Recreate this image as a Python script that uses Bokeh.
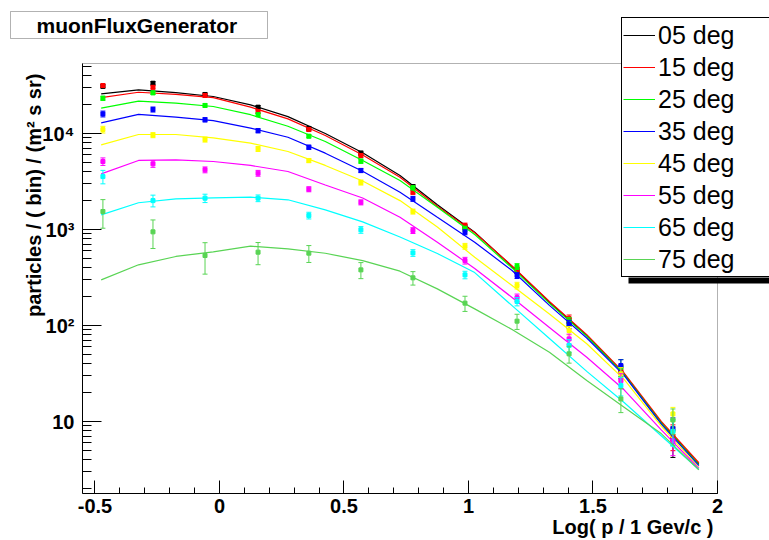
import math
from bokeh.plotting import figure
from bokeh.models import Range1d, FixedTicker, Legend, LegendItem, Label, BoxAnnotation
from bokeh.embed import file_html
from bokeh.resources import INLINE

# ---------------- data ----------------
labels = ["05 deg", "15 deg", "25 deg", "35 deg", "45 deg", "55 deg", "65 deg", "75 deg"]
colors = ["#000000", "#ff0000", "#00ff00", "#0000ff", "#ffff00", "#ff00ff", "#00ffff", "#59d454"]

# measured bin centres  (log10 p)
data_x = [-0.468, -0.267, -0.058, 0.155, 0.359, 0.568, 0.777, 0.986, 1.195, 1.404, 1.612, 1.821]
# model curve sample points (log10 p)
curve_x = [-0.475, -0.325, -0.175, -0.025, 0.125, 0.275, 0.425, 0.575, 0.725,
           0.875, 1.025, 1.175, 1.325, 1.475, 1.625, 1.775, 1.925]

pts_05 = [31000, 33400, 25500, 18800, 11300, 6240, 2800, 1060, 374, 108, 32.4, 6.5]
pts_15 = [31600, 30300, 24900, 16900, 11000, 5900, 2450, 1100, 380, 118, 34.0, 7.1]
pts_25 = [23300, 26500, 19600, 15700, 9380, 5150, 2720, 1020, 412, 111, 36.8, 8.06]
pts_35 = [16000, 17800, 13900, 10700, 7200, 4120, 2090, 937, 332, 103, 38.3, 8.4]
pts_45 = [11000, 9620, 8660, 6920, 5230, 3090, 1540, 670, 261, 88.7, 31.4, 12.0]
pts_55 = [5110, 4830, 4190, 3860, 2630, 1920, 977, 475, 195, 72.6, 26.7, 6.3]
pts_65 = [3560, 2000, 2120, 2120, 1400, 993, 571, 337, 178, 62, 23.7, 7.9]
pts_75 = [1540, 946, 536, 581, 567, 380, 314, 171, 111, 50.7, 17.2, 10.4]

# relative errors of the points
err_05 = [0.04, 0.04, 0.04, 0.04, 0.04, 0.05, 0.05, 0.06, 0.07, 0.09, 0.14, 0.35]
err_15 = [0.04, 0.04, 0.04, 0.04, 0.04, 0.05, 0.05, 0.06, 0.07, 0.09, 0.14, 0.30]
err_25 = [0.05, 0.04, 0.04, 0.04, 0.04, 0.05, 0.05, 0.06, 0.07, 0.09, 0.20, 0.30]
err_35 = [0.07, 0.06, 0.05, 0.05, 0.05, 0.05, 0.06, 0.06, 0.07, 0.10, 0.15, 0.30]
err_45 = [0.08, 0.06, 0.06, 0.06, 0.05, 0.06, 0.06, 0.07, 0.08, 0.10, 0.16, 0.17]
err_55 = [0.09, 0.08, 0.07, 0.07, 0.06, 0.06, 0.07, 0.08, 0.09, 0.12, 0.18, 0.30]
err_65 = [0.16, 0.14, 0.10, 0.08, 0.08, 0.08, 0.08, 0.09, 0.10, 0.15, 0.22, 0.30]
err_75 = [0.33, 0.33, 0.36, 0.26, 0.20, 0.19, 0.16, 0.18, 0.18, 0.20, 0.28, 0.30]

crv_05 = [25900, 28500, 26700, 24300, 19900, 15000, 10000, 6310, 3650, 1810, 938, 412, 175, 78.7, 31.4, 9.66, 3.62]
crv_15 = [23600, 26900, 25600, 23600, 18800, 14200, 9550, 5970, 3510, 1750, 925, 417, 178, 80.4, 32.0, 10.0, 3.72]
crv_25 = [18400, 21700, 20700, 19100, 15700, 11900, 8260, 5240, 3240, 1710, 887, 398, 170, 77.6, 30.9, 9.55, 3.55]
crv_35 = [12900, 15800, 14800, 13600, 11400, 9140, 6240, 4050, 2450, 1340, 738, 374, 162, 74.1, 30.2, 9.33, 3.47]
crv_45 = [7620, 9770, 9770, 9020, 7930, 6490, 4650, 3200, 2000, 1060, 514, 261, 132, 64.6, 27.5, 8.91, 3.31]
crv_55 = [3800, 5240, 5320, 5110, 4650, 4020, 2910, 2130, 1340, 738, 393, 196, 95.5, 46.8, 21.4, 8.13, 3.24]
crv_65 = [1420, 1900, 2090, 2140, 2170, 2040, 1600, 1200, 836, 562, 356, 161, 73.3, 33.3, 15.8, 7.08, 3.16]
crv_75 = [299, 429, 524, 586, 670, 630, 566, 475, 368, 241, 149, 90.8, 52.7, 26.7, 14.1, 7.45, 3.14]

# axis extents of the drawn frame and ticks
x_lo, x_hi = -0.55, 2.0
y_lo, y_hi = 1.78, 53600
x_major = [-0.5, 0, 0.5, 1, 1.5, 2]
x_tick_labels = ["-0.5", "0", "0.5", "1", "1.5", "2"]
x_minor = [round(-0.5 + 0.1 * i, 2) for i in range(26)]
y_major = [10, 100, 1000, 10000]
y_tick_labels = ["10", "10\u00b2", "10\u00b3", "10\u2074"]
y_minor = [m * d for d in (1, 10, 100, 1000, 10000) for m in range(2, 10) if m * d <= y_hi]

points = [pts_05, pts_15, pts_25, pts_35, pts_45, pts_55, pts_65, pts_75]
errors = [err_05, err_15, err_25, err_35, err_45, err_55, err_65, err_75]
curves = [crv_05, crv_15, crv_25, crv_35, crv_45, crv_55, crv_65, crv_75]

FONT = "Liberation Sans"
W, H = 769, 540
# pixel geometry of the drawn frame inside the canvas
FL, FR, FT, FB = 82, 717, 63, 493
kx = (FR - FL) / (x_hi - x_lo)
ky = (FB - FT) / (math.log10(y_hi) - math.log10(y_lo))
view_x0 = x_lo - FL / kx
view_x1 = x_hi + (W - FR) / kx
view_y0 = 10 ** (math.log10(y_lo) - (H - FB) / ky)
view_y1 = 10 ** (math.log10(y_hi) + FT / ky)

p = figure(width=W, height=H, output_backend="svg", toolbar_location=None,
           x_range=Range1d(view_x0, view_x1), y_range=Range1d(view_y0, view_y1),
           y_axis_type="log", min_border=0)
p.title.visible = False
p.xgrid.visible = False
p.ygrid.visible = False
p.outline_line_color = None
p.background_fill_color = "white"
p.border_fill_color = "white"

ax = p.xaxis[0]
ax.fixed_location = y_lo
ax.bounds = (x_lo, x_hi)
ax.ticker = FixedTicker(ticks=x_major, minor_ticks=x_minor)
ax.major_label_overrides = dict(zip(x_major, x_tick_labels))
ax.major_tick_in = 13
ax.major_tick_out = 0
ax.minor_tick_in = 6
ax.minor_tick_out = 0
ax.major_label_standoff = 5
ax.major_label_text_font = FONT
ax.major_label_text_font_style = "bold"
ax.major_label_text_font_size = "20px"
ax.major_label_text_color = "black"
ax.axis_line_color = "black"
ax.major_tick_line_color = "black"
ax.minor_tick_line_color = "black"

ay = p.yaxis[0]
ay.fixed_location = x_lo
ay.bounds = (y_lo, y_hi)
ay.ticker = FixedTicker(ticks=y_major, minor_ticks=y_minor)
ay.major_label_overrides = dict(zip(y_major, y_tick_labels))
ay.major_tick_in = 19
ay.major_tick_out = 0
ay.minor_tick_in = 9
ay.minor_tick_out = 0
ay.major_label_standoff = 8
ay.major_label_text_font = FONT
ay.major_label_text_font_style = "bold"
ay.major_label_text_font_size = "20px"
ay.major_label_text_color = "black"
ay.axis_line_color = "black"
ay.major_tick_line_color = "black"
ay.minor_tick_line_color = "black"

# ROOT frame box (top and right edges)
p.add_layout(BoxAnnotation(left=x_lo, right=x_hi, bottom=y_lo, top=y_hi,
                           fill_alpha=0, line_color="black", line_width=1))

line_renderers = []
for lab, col, pts, err, crv in zip(labels, colors, points, errors, curves):
    r = p.line(curve_x, crv, line_color=col, line_width=1.2)
    line_renderers.append(r)
    upper = [v * (1 + e) for v, e in zip(pts, err)]
    lower = [v * (1 - e) for v, e in zip(pts, err)]
    p.segment(x0=data_x, y0=lower, x1=data_x, y1=upper, line_color=col, line_width=1)
    p.scatter(data_x, upper, marker="dash", size=5, line_color=col, line_width=1)
    p.scatter(data_x, lower, marker="dash", size=5, line_color=col, line_width=1)
    p.scatter(data_x, pts, marker="square", size=4, fill_color=col, line_color=col)

# legend shadow (screen units: from canvas left / bottom)
p.add_layout(BoxAnnotation(left=628, right=790, bottom=H - 283, top=H - 277,
                           left_units="screen", right_units="screen",
                           top_units="screen", bottom_units="screen",
                           fill_color="black", fill_alpha=1, line_color=None))

legend = Legend(items=[LegendItem(label=l, renderers=[r]) for l, r in zip(labels, line_renderers)],
                location=(621, H - 277), orientation="vertical",
                glyph_width=32, glyph_height=32, label_height=32, label_width=120,
                label_standoff=3, spacing=0, padding=1, margin=0,
                border_line_color="black", border_line_width=1, border_line_alpha=1,
                background_fill_color="white", background_fill_alpha=1,
                label_text_font=FONT, label_text_font_size="25px", label_text_color="black")
p.add_layout(legend)

# title box
p.add_layout(BoxAnnotation(left=10, right=267, top=H - 11, bottom=H - 38,
                           left_units="screen", right_units="screen",
                           top_units="screen", bottom_units="screen",
                           fill_color="white", fill_alpha=1, line_color="black", line_width=1))
p.add_layout(Label(x=36, y=H - 24.5, x_units="screen", y_units="screen", text="muonFluxGenerator",
                   text_font=FONT, text_font_style="bold", text_font_size="21px",
                   text_align="left", text_baseline="middle", text_color="black"))

# axis titles
p.add_layout(Label(x=713, y=H - 526, x_units="screen", y_units="screen", text="Log( p / 1 Gev/c )",
                   text_font=FONT, text_font_style="bold", text_font_size="20px",
                   text_align="right", text_baseline="middle", text_color="black"))
p.add_layout(Label(x=33, y=H - 62, x_units="screen", y_units="screen",
                   text="particles / (   bin) / (m\u00b2 s sr)", angle=math.pi / 2,
                   text_font=FONT, text_font_style="bold", text_font_size="20px",
                   text_align="right", text_baseline="middle", text_color="black"))

open("out.html", "w").write(file_html(p, INLINE))
